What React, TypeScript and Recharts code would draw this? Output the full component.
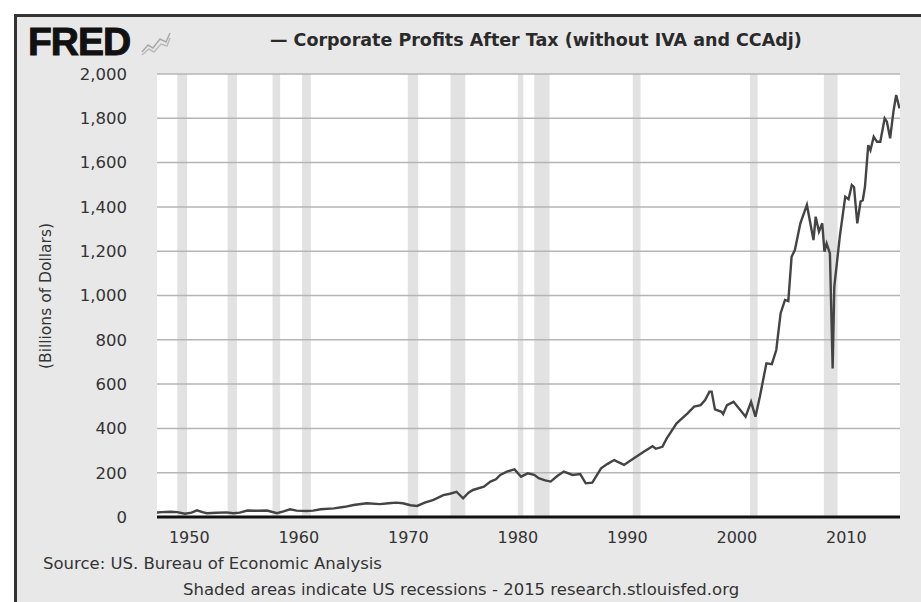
import React from 'react';
import { LineChart, Line, XAxis, YAxis, CartesianGrid, ReferenceArea, ReferenceLine } from 'recharts';

// quarter-ish dates (decimal years) and profits in billions
const years: number[] = [
  1947.0, 1947.5, 1948.3, 1948.9, 1949.6, 1950.2, 1950.7, 1951.2, 1951.6, 1952.5,
  1953.4, 1954.0, 1954.6, 1955.3, 1956.2, 1957.1, 1958.0, 1958.6, 1959.2, 1959.8,
  1960.7, 1961.3, 1962.0, 1963.2, 1964.2, 1965.0, 1966.2, 1967.4, 1968.2, 1968.9,
  1969.5, 1970.2, 1970.8, 1971.5, 1972.3, 1973.2, 1973.8, 1974.4, 1975.0, 1975.5,
  1975.9, 1976.9, 1977.5, 1978.0, 1978.4, 1979.0, 1979.7, 1980.3, 1980.9, 1981.5,
  1981.9, 1982.5, 1983.0, 1983.6, 1984.2, 1985.0, 1985.7, 1986.2, 1986.8, 1987.6,
  1988.2, 1988.8, 1989.7, 1990.6, 1991.5, 1992.3, 1992.6, 1993.2, 1993.6, 1994.5,
  1995.5, 1996.1, 1996.7, 1997.1, 1997.5, 1997.7, 1998.0, 1998.6, 1998.75, 1999.1,
  1999.7, 2000.2, 2000.8, 2001.3, 2001.7, 2002.1, 2002.7, 2003.2, 2003.6, 2004.0,
  2004.4, 2004.7, 2005.0, 2005.3, 2005.8, 2006.4, 2007.0, 2007.2, 2007.5, 2007.8,
  2008.0, 2008.2, 2008.5, 2008.75, 2008.9, 2009.4, 2009.9, 2010.2, 2010.5, 2010.7,
  2011.0, 2011.3, 2011.5, 2011.7, 2012.0, 2012.2, 2012.5, 2012.8, 2013.1, 2013.5,
  2013.7, 2014.0, 2014.3, 2014.55, 2014.85,
];

const profits: number[] = [
  20, 22, 24, 22, 15, 20, 30, 22, 17, 19,
  21, 17, 20, 29, 28, 29, 17, 25, 35, 29,
  27, 29, 35, 39, 46, 54, 62, 58, 62, 65,
  62, 53, 50, 65, 77, 99, 105, 114, 84, 110,
  122, 137, 160, 170, 190, 205, 215, 182, 197, 190,
  175, 165, 160, 185, 205, 190, 194, 152, 155, 220,
  240, 257, 235, 265, 295, 320, 308, 317, 355, 423,
  468, 498, 505, 528, 566, 566, 486, 475, 465, 505,
  520, 490, 453, 520, 453, 543, 694, 690, 754, 920,
  980, 975, 1175, 1205, 1326, 1409, 1250, 1356, 1288, 1326,
  1198, 1235, 1190, 671, 1040, 1265, 1446, 1435, 1499, 1490,
  1326, 1424, 1430, 1491, 1679, 1656, 1717, 1694, 1694, 1800,
  1785, 1710, 1830, 1905, 1845,
];

const recessionStarts = [1948.9, 1953.5, 1957.6, 1960.3, 1969.95, 1973.85, 1980.0, 1981.5, 1990.5, 2001.2, 2007.95];
const recessionEnds = [1949.8, 1954.35, 1958.3, 1961.1, 1970.9, 1975.2, 1980.5, 1982.9, 1991.2, 2001.9, 2009.2];

const xTicks = [1950, 1960, 1970, 1980, 1990, 2000, 2010];
const yTicks = [0, 200, 400, 600, 800, 1000, 1200, 1400, 1600, 1800, 2000];

const data = years.map((y, i) => ({ date: y, value: profits[i] }));

const font = '"DejaVu Sans", Verdana, sans-serif';

export default function App() {
  return (
    <div style={{ position: 'relative', width: 921, height: 602, background: '#fff', overflow: 'hidden', fontFamily: font }}>
      <style>{'body{margin:0}'}</style>

      {/* grey frame */}
      <div
        style={{
          position: 'absolute',
          left: 14,
          top: 14,
          width: 940,
          height: 620,
          background: '#e8e8e8',
          borderTop: '3px solid #333',
          borderLeft: '3px solid #333',
        }}
      />

      <div style={{ position: 'absolute', left: 0, top: 0 }}>
        <LineChart width={921} height={602} data={data} margin={{ top: 74, right: 21, bottom: 55, left: 0 }}>
          <CartesianGrid vertical={false} horizontal={false} fill="#ffffff" />
          {recessionStarts.map((s, i) => (
            <ReferenceArea
              key={s}
              x1={s}
              x2={recessionEnds[i]}
              y1={0}
              y2={2000}
              fill="#d6d6d6"
              fillOpacity={0.7}
              stroke="none"
              ifOverflow="hidden"
            />
          ))}
          {yTicks.slice(1).map((t) => (
            <ReferenceLine key={t} y={t} stroke="#b5b5b5" strokeWidth={1.5} />
          ))}
          <XAxis
            dataKey="date"
            type="number"
            domain={[1947.05, 2014.9]}
            ticks={xTicks}
            axisLine={false}
            tickLine={false}
            tickSize={0}
            tickMargin={15}
            height={30}
            tick={{ fill: '#333', fontSize: 16, fontFamily: font }}
            allowDataOverflow
          />
          <YAxis
            type="number"
            domain={[0, 2000]}
            ticks={yTicks}
            width={157}
            axisLine={false}
            tickLine={false}
            tickSize={0}
            tickMargin={30}
            tickFormatter={(v: number) => v.toLocaleString('en-US')}
            tick={{ fill: '#333', fontSize: 16.5, fontFamily: font }}
          />
          <ReferenceLine y={0} stroke="#111" strokeWidth={3} />
          <Line
            type="linear"
            dataKey="value"
            stroke="#444"
            strokeWidth={2.4}
            dot={false}
            isAnimationActive={false}
          />
        </LineChart>
      </div>

      {/* FRED logo */}
      <div
        style={{
          position: 'absolute',
          left: 28,
          top: 20,
          fontFamily: '"Liberation Sans", Arial, sans-serif',
          fontWeight: 900,
          fontSize: 39,
          letterSpacing: -1,
          color: '#111',
          lineHeight: '44px',
          WebkitTextStroke: '1px #111',
        }}
      >
        FRED
      </div>
      <svg style={{ position: 'absolute', left: 140, top: 30 }} width={32} height={26}>
        <polyline points="2,22 8,15 13,18 20,9 26,12 30,3" fill="none" stroke="#aaa" strokeWidth={1.5} />
        <polyline points="2,25 9,19 14,22 21,14 27,16 30,8" fill="none" stroke="#bbb" strokeWidth={1.5} />
      </svg>

      {/* legend title */}
      <div
        style={{
          position: 'absolute',
          left: 270,
          top: 30,
          fontSize: 17.5,
          fontWeight: 'bold',
          color: '#2a2a2a',
          whiteSpace: 'nowrap',
        }}
      >
        — Corporate Profits After Tax (without IVA and CCAdj)
      </div>

      {/* y axis label */}
      <div
        style={{
          position: 'absolute',
          left: 46,
          top: 296,
          transform: 'translate(-50%, -50%) rotate(-90deg)',
          fontSize: 15.5,
          color: '#333',
          whiteSpace: 'nowrap',
        }}
      >
        (Billions of Dollars)
      </div>

      <div style={{ position: 'absolute', left: 43, top: 554, fontSize: 16.5, color: '#333', whiteSpace: 'nowrap' }}>
        Source: US. Bureau of Economic Analysis
      </div>
      <div style={{ position: 'absolute', left: 183, top: 580, fontSize: 16.5, color: '#333', whiteSpace: 'nowrap' }}>
        Shaded areas indicate US recessions - 2015 research.stlouisfed.org
      </div>
    </div>
  );
}
